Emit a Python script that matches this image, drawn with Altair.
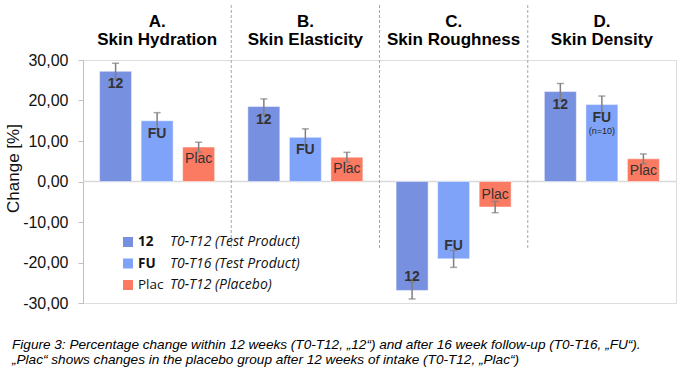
import altair as alt
import pandas as pd

# ---------------- data ----------------
groups = ["A.|Skin Hydration", "B.|Skin Elasticity", "C.|Skin Roughness", "D.|Skin Density"]
series = ["12", "FU", "Plac"]
colors = ["#7890E0", "#80A3FA", "#FB7A62"]

v12 = [27.2, 18.5, -26.9, 22.2]
vFU = [15.0, 10.9, -19.1, 19.0]
vPlac = [8.5, 6.0, -6.3, 5.6]

e12 = [2.0, 1.9, 2.1, 2.0]
eFU = [2.0, 2.1, 2.1, 2.1]
ePlac = [1.2, 1.2, 1.4, 1.2]

notes_fu = ["", "", "", "(n=10)"]

y_ticks = [-30, -20, -10, 0, 10, 20, 30]

legend_desc = ["T0-T12 (Test Product)", "T0-T16 (Test Product)", "T0-T12 (Placebo)"]

caption = ("Figure 3: Percentage change within 12 weeks (T0-T12, \u201e12\u201c) and after 16 week follow-up (T0-T16, \u201eFU\u201c).\n"
           "\u201ePlac\u201c shows changes in the placebo group after 12 weeks of intake (T0-T12, \u201ePlac\u201c)")

# ---------------- tables ----------------
rows = []
for vals, errs, s in [(v12, e12, "12"), (vFU, eFU, "FU"), (vPlac, ePlac, "Plac")]:
    for i, g in enumerate(groups):
        rows.append({"group": g, "series": s, "value": vals[i], "err": errs[i],
                     "lo": vals[i] - errs[i], "hi": vals[i] + errs[i],
                     "note": notes_fu[i] if s == "FU" else ""})
df = pd.DataFrame(rows)
leg = pd.DataFrame({"key": series, "desc": legend_desc})
sep = pd.DataFrame({"group": groups[1:]})
cap = pd.DataFrame({"c": [caption]})

FONT = "Liberation Sans"
W, H = 593, 243

xenc = alt.X("group:N", sort=groups,
             scale=alt.Scale(paddingInner=0, paddingOuter=0),
             axis=alt.Axis(orient="top", title=None, domain=False, ticks=False,
                           labelExpr="split(datum.label, '|')", labelAngle=0,
                           labelAlign="center", labelFlush=False, labelOverlap=False,
                           labelFont=FONT, labelFontSize=17, labelFontWeight="bold",
                           labelColor="#000000", labelLineHeight=18, labelPadding=39))
xoff = alt.XOffset("series:N", sort=series,
                   scale=alt.Scale(domain=series, paddingInner=0.23, paddingOuter=0.4))
yscale = alt.Scale(domain=[-30, 30], nice=False, zero=False)
colorenc = alt.Color("series:N", scale=alt.Scale(domain=series, range=colors), legend=None)

base = alt.Chart(df)

bars = base.mark_bar(stroke="#ffffff", strokeOpacity=0.45, strokeWidth=1).encode(
    x=xenc, xOffset=xoff,
    y=alt.Y("value:Q", scale=yscale,
            axis=alt.Axis(values=y_ticks, grid=False, domainColor="#bfbfbf", tickColor="#bfbfbf",
                          tickSize=5, labelPadding=10, labelFont=FONT, labelFontSize=16,
                          labelColor="#111111",
                          labelExpr="(datum.value < 0 ? '-' : '') + replace(format(abs(datum.value), '.2f'), '.', ',')",
                          title="Change [%]", titleFont=FONT, titleFontSize=17, titleFontWeight="normal",
                          titleColor="#111111", titleX=-70, titleY=108, titleAngle=270,
                          titleAlign="center", titleBaseline="middle")),
    y2=alt.datum(0),
    color=colorenc,
)

zero = alt.Chart(cap).mark_rule(color="#d9d9d9", strokeWidth=1.5).encode(y=alt.datum(0, scale=yscale))

err_rule = base.mark_rule(color="#7f7f7f", strokeWidth=1.5).encode(
    x=xenc, xOffset=xoff, y=alt.Y("lo:Q", scale=yscale), y2="hi:Q")
err_lo = base.mark_tick(color="#7f7f7f", thickness=1.5, size=7, orient="horizontal").encode(
    x=xenc, xOffset=xoff, y=alt.Y("lo:Q", scale=yscale))
err_hi = base.mark_tick(color="#7f7f7f", thickness=1.5, size=7, orient="horizontal").encode(
    x=xenc, xOffset=xoff, y=alt.Y("hi:Q", scale=yscale))


def label_layer(filt, dy, weight):
    return base.transform_filter(filt).mark_text(
        font=FONT, fontSize=14, fontWeight=weight, color="#333333", dy=dy, baseline="middle"
    ).encode(x=xenc, xOffset=xoff, y=alt.Y("value:Q", scale=yscale), text="series:N")


lab1 = label_layer("datum.value > 0 && datum.series != 'Plac'", 13, "bold")
lab2 = label_layer("datum.value < 0 && datum.series != 'Plac'", -13, "bold")
lab3 = label_layer("datum.value > 0 && datum.series == 'Plac'", 12, "normal")
lab4 = label_layer("datum.value < 0 && datum.series == 'Plac'", -12, "normal")

note = base.transform_filter("datum.note != ''").mark_text(
    font=FONT, fontSize=9, color="#222222", dy=26, baseline="middle"
).encode(x=xenc, xOffset=xoff, y=alt.Y("value:Q", scale=yscale), text="note:N")

seps = alt.Chart(sep).mark_rule(color="#a6a6a6", strokeDash=[3, 2], strokeWidth=1).encode(
    x=alt.X("group:N", sort=groups, bandPosition=0), y=alt.value(-55), y2=alt.value(190))

main = alt.layer(zero, seps, bars, err_rule, err_lo, err_hi, lab1, lab2, lab3, lab4, note)

# ---------------- legend ----------------
ly = alt.Y("key:N", sort=series, scale=alt.Scale(domain=series, range=[182, 225], padding=0), axis=None)
lbase = alt.Chart(leg)
sw = lbase.mark_square(size=100, opacity=1).encode(x=alt.value(45), y=ly, color=alt.Color("key:N", scale=alt.Scale(domain=series, range=colors), legend=None))
lk1 = lbase.transform_filter("datum.key != 'Plac'").mark_text(
    font="Open Sans", fontSize=13.5, fontWeight="bold", align="left", baseline="middle", color="#111111"
).encode(x=alt.value(55), y=ly, text="key:N")
lk2 = lbase.transform_filter("datum.key == 'Plac'").mark_text(
    font="Open Sans", fontSize=13.5, align="left", baseline="middle", color="#111111"
).encode(x=alt.value(55), y=ly, text="key:N")
ld = lbase.mark_text(
    font="Open Sans", fontSize=14, fontStyle="italic", align="left", baseline="middle", color="#111111"
).encode(x=alt.value(87), y=ly, text="desc:N")
legend_layer = alt.layer(sw, lk1, lk2, ld)

capt = alt.Chart(cap).mark_text(
    font="Liberation Sans", fontSize=13.6, fontStyle="italic", align="left",
    baseline="alphabetic", lineBreak="\n", lineHeight=14.5, color="#000000"
).encode(x=alt.value(-71), y=alt.value(289), text="c:N")

chart = alt.layer(main, legend_layer, capt).resolve_scale(y="independent", color="independent").properties(
    width=W, height=H,
    autosize=alt.AutoSizeParams(type="none"),
    padding={"left": 83, "top": 60, "right": 12, "bottom": 74},
).configure_view(stroke=None).configure(background="#ffffff")

chart.save("out.html", embed_options={"renderer": "svg", "actions": False})
